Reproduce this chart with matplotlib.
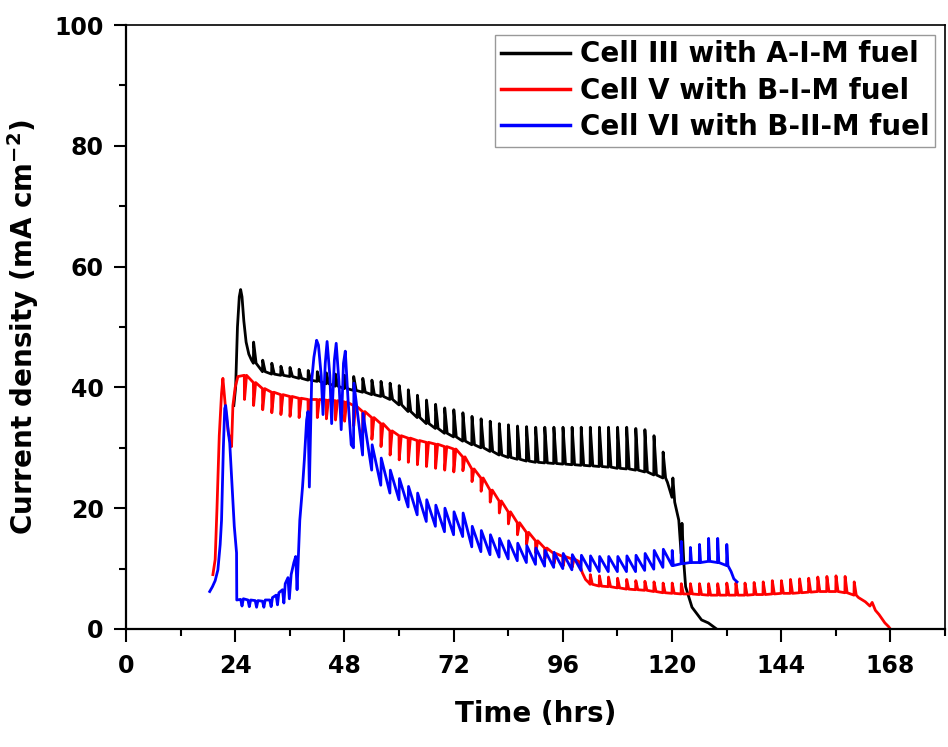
import matplotlib
matplotlib.use("Agg")
import matplotlib.pyplot as plt
from matplotlib.ticker import MultipleLocator

# ---- Cell III with A-I-M fuel (black) ----
black_start_t = [23.7, 24.1, 24.5, 24.9, 25.2, 25.5, 25.9, 26.4, 27.0, 27.6]
black_start_y = [37.0, 40.0, 50.0, 55.0, 56.2, 55.0, 51.0, 47.5, 45.5, 44.5]
black_spike_t = [28, 30, 32, 34, 36, 38, 40, 42, 44, 46, 48, 50, 52, 54, 56, 58,
                 60, 62, 64, 66, 68, 70, 72, 74, 76, 78, 80, 82, 84, 86, 88, 90,
                 92, 94, 96, 98, 100, 102, 104, 106, 108, 110, 112, 114, 116, 118]
black_base = [44.0, 42.6, 42.2, 42.0, 41.8, 41.5, 41.2, 41.0, 40.6, 40.2, 39.8, 39.5,
              39.2, 38.8, 38.5, 38.0, 37.1, 36.0, 35.0, 34.0, 33.2, 32.4, 31.8, 31.1,
              30.5, 30.0, 29.4, 28.8, 28.4, 28.1, 27.8, 27.6, 27.5, 27.4, 27.3, 27.2,
              27.1, 27.0, 26.9, 26.8, 26.6, 26.5, 26.3, 26.0, 25.5, 25.0]
black_peak = [47.5, 44.5, 44.0, 43.5, 43.3, 43.0, 42.8, 42.6, 42.4, 42.2, 42.0, 41.8,
              41.5, 41.2, 41.0, 40.7, 40.3, 39.6, 38.7, 37.9, 37.2, 36.6, 36.3, 35.8,
              35.2, 34.8, 34.4, 34.0, 33.8, 33.6, 33.5, 33.4, 33.4, 33.4, 33.4, 33.4,
              33.4, 33.4, 33.4, 33.4, 33.4, 33.4, 33.2, 33.0, 32.0, 29.3]
black_end_t = [119.0, 120.0, 120.2, 120.6, 121.5, 122.0, 122.2, 122.6, 123.0, 124.4,
               125.5, 126.5, 128.0, 129.8]
black_end_y = [24.3, 21.8, 25.0, 21.0, 18.0, 12.5, 17.5, 11.0, 7.0, 3.6, 2.5, 1.5, 1.0, 0.0]

# ---- Cell V with B-I-M fuel (red) ----
red_start_t = [19.1, 19.6, 20.0, 20.5, 21.0, 21.3, 21.6, 22.0, 22.5, 23.0, 23.2, 23.5, 24.0, 24.6]
red_start_y = [9.0, 11.5, 20.0, 32.0, 39.0, 41.5, 39.0, 35.5, 32.5, 31.0, 30.2, 37.0, 40.0, 41.8]
red_dip_t = [26, 28, 30, 32, 34, 36, 38, 40, 42, 44, 46, 48, 50, 52, 54, 56, 58, 60,
             62, 64, 66, 68, 70, 72, 74, 76, 78, 80, 82, 84, 86, 88, 90, 92, 94, 96, 98]
red_top = [42.0, 40.8, 39.8, 39.2, 38.8, 38.5, 38.2, 38.0, 38.0, 37.9, 37.8, 37.6,
           37.0, 36.0, 35.0, 34.0, 32.8, 32.0, 31.6, 31.2, 30.9, 30.6, 30.2, 29.8,
           28.5, 26.5, 25.0, 23.0, 21.2, 19.4, 17.6, 16.0, 14.6, 13.4, 12.5, 12.0, 11.6]
red_dip = [38.0, 37.0, 36.3, 35.8, 35.5, 35.2, 35.0, 35.0, 35.0, 34.8, 34.6, 34.4,
           33.6, 32.5, 31.4, 30.2, 28.8, 28.0, 27.6, 27.2, 26.9, 26.6, 26.3, 26.0,
           26.2, 24.4, 22.8, 21.0, 19.2, 17.4, 15.6, 14.0, 12.6, 11.6, 10.8, 10.4, 10.2]
red_drop_t = [99.5, 100.3, 101.0, 101.8]
red_drop_y = [11.2, 9.3, 8.2, 7.6]
red_spike_t = [102, 104, 106, 108, 110, 112, 114, 116, 118, 120, 122, 124, 126, 128,
               130, 132, 134, 136, 138, 140, 142, 144, 146, 148, 150, 152, 154, 156, 158, 160]
red_base = [7.4, 7.1, 7.0, 6.8, 6.6, 6.5, 6.4, 6.2, 6.0, 5.9, 5.8, 5.8, 5.7, 5.6, 5.6,
            5.6, 5.6, 5.6, 5.7, 5.7, 5.8, 5.9, 5.9, 6.0, 6.1, 6.2, 6.2, 6.2, 6.0, 5.6]
red_peak = [9.0, 8.8, 8.6, 8.4, 8.2, 8.0, 7.9, 7.8, 7.6, 7.6, 7.5, 7.5, 7.5, 7.5, 7.5,
            7.6, 7.6, 7.6, 7.7, 7.8, 8.0, 8.0, 8.2, 8.3, 8.4, 8.6, 8.7, 8.8, 8.7, 7.8]
red_end_t = [161.0, 162.5, 163.5, 164.0, 164.7, 165.5, 166.8, 167.6, 168.0]
red_end_y = [5.2, 4.5, 3.8, 4.4, 3.1, 2.4, 1.0, 0.4, 0.0]

# ---- Cell VI with B-II-M fuel (blue) ----
blue_start_t = [18.4, 19.0, 19.6, 20.2, 20.7, 21.0, 21.4, 21.7, 21.9, 22.2, 22.5, 22.8,
                23.3, 23.8, 24.3, 24.35, 25.2, 25.5, 25.8, 26.8, 27.1, 27.4, 28.4, 28.7,
                29.0, 30.0, 30.3, 30.6, 31.6, 31.9, 32.2, 33.0, 33.3, 33.6, 34.4, 34.7,
                35.0, 35.6, 35.9, 36.3, 36.9, 37.3, 37.6, 38.2, 38.8, 39.2, 39.7, 40.0,
                40.3, 40.8, 41.3, 41.9, 42.3, 42.9, 43.3, 43.8, 44.2, 44.8, 45.2, 45.8,
                46.2, 46.8, 47.3, 47.8, 48.2, 48.8, 49.5]
blue_start_y = [6.2, 7.0, 8.0, 9.8, 14.0, 18.0, 30.0, 36.5, 37.0, 35.0, 32.5, 30.8,
                24.0, 17.0, 12.6, 4.8, 4.9, 3.8, 5.0, 4.8, 3.7, 4.8, 4.7, 3.6,
                4.7, 4.6, 3.6, 4.8, 4.8, 3.7, 5.2, 5.6, 4.0, 6.0, 6.5, 4.3,
                7.5, 8.5, 5.0, 9.0, 11.0, 12.0, 6.5, 18.0, 23.5, 28.0, 34.6, 36.0,
                23.5, 41.0, 45.0, 47.8, 47.0, 42.0, 35.5, 44.0, 47.6, 42.0, 34.0, 44.5,
                47.3, 41.0, 33.0, 44.0, 46.0, 38.0, 30.5]
blue_saw_t = [50, 52, 54, 56, 58, 60, 62, 64, 66, 68, 70, 72, 74, 76, 78, 80, 82, 84,
              86, 88, 90, 92, 94, 96, 98, 100, 102, 104, 106, 108, 110, 112, 114, 116, 118]
blue_saw_lo = [30.0, 28.8, 26.3, 23.8, 22.5, 21.4, 20.2, 18.9, 17.8, 17.0, 16.1, 15.6,
               15.3, 13.6, 12.8, 12.3, 11.9, 11.6, 11.3, 11.0, 10.7, 10.4, 10.2, 10.0,
               9.8, 9.7, 9.6, 9.5, 9.5, 9.5, 9.5, 9.5, 9.7, 9.9, 10.2]
blue_saw_hi = [40.7, 35.7, 30.5, 28.3, 26.3, 24.9, 23.6, 22.5, 21.4, 20.5, 20.0, 19.4,
               19.2, 17.0, 16.3, 15.6, 15.0, 14.6, 14.2, 13.8, 13.4, 13.0, 12.7, 12.5,
               12.3, 12.2, 12.1, 12.0, 12.0, 12.0, 12.1, 12.2, 12.5, 13.0, 13.2]
blue_spike_t = [120, 122, 124, 126, 128, 130, 132]
blue_base = [10.5, 10.8, 11.0, 11.0, 11.2, 11.0, 10.5]
blue_peak = [13.0, 14.5, 13.5, 14.0, 15.0, 15.0, 14.0]
blue_end_t = [133.0, 133.6, 134.3]
blue_end_y = [9.5, 8.3, 7.8]

labels = ["Cell III with A-I-M fuel", "Cell V with B-I-M fuel", "Cell VI with B-II-M fuel"]


def spike_train(t, base, peak, width):
    xs, ys = [], []
    for ti, b, p in zip(t, base, peak):
        xs += [ti, ti + 0.05, ti + width]
        ys += [b, p, b]
    return xs, ys


def sawtooth(t, lo, hi):
    xs, ys = [], []
    for ti, a, b in zip(t, lo, hi):
        xs += [ti, ti + 0.1]
        ys += [a, b]
    return xs, ys


bx, by = spike_train(black_spike_t, black_base, black_peak, 0.6)
black_t = black_start_t + bx + black_end_t
black_y = black_start_y + by + black_end_y

rx, ry = spike_train(red_dip_t, red_top, red_dip, 0.5)
rx2, ry2 = spike_train(red_spike_t, red_base, red_peak, 0.5)
red_t = red_start_t + rx + red_drop_t + rx2 + red_end_t
red_y = red_start_y + ry + red_drop_y + ry2 + red_end_y

sx, sy = sawtooth(blue_saw_t, blue_saw_lo, blue_saw_hi)
px, py = spike_train(blue_spike_t, blue_base, blue_peak, 0.3)
blue_t = blue_start_t + sx + px + blue_end_t
blue_y = blue_start_y + sy + py + blue_end_y

plt.rcParams['font.family'] = ['DejaVu Sans']
plt.rcParams['font.weight'] = 'bold'

fig = plt.figure(figsize=(9.48, 7.47), dpi=100)
ax = fig.add_axes([0.1329, 0.158, 0.8639, 0.8085])

ax.plot(black_t, black_y, color='#000000', lw=2, label=labels[0])
ax.plot(red_t, red_y, color='#ff0000', lw=2, label=labels[1])
ax.plot(blue_t, blue_y, color='#0000ff', lw=2, label=labels[2])

ax.set_xlim(0, 180)
ax.set_ylim(0, 100)
ax.xaxis.set_major_locator(MultipleLocator(24))
ax.xaxis.set_minor_locator(MultipleLocator(12))
ax.yaxis.set_major_locator(MultipleLocator(20))
ax.yaxis.set_minor_locator(MultipleLocator(10))
ax.tick_params(which='major', direction='out', length=9, width=1.5, labelsize=17, pad=7)
ax.tick_params(which='minor', direction='out', length=5, width=1.5)
ax.tick_params(axis='x', which='major', pad=9)
for side in ['left', 'bottom']:
    ax.spines[side].set_linewidth(1.6)
for side in ['top', 'right']:
    ax.spines[side].set_linewidth(1.2)

ax.set_xlabel("Time (hrs)", fontsize=20, fontweight='bold', labelpad=16)
ax.set_ylabel("Current density (mA cm$^{\\mathbf{-2}}$)", fontsize=20, fontweight='bold', labelpad=10)

leg = ax.legend(loc='upper right', fontsize=20, frameon=True, fancybox=False,
                edgecolor='#808080', handlelength=2.5, handletextpad=0.35,
                labelspacing=0.3, borderpad=0.2, borderaxespad=0.35)
leg.get_frame().set_linewidth(1.0)
for line in leg.get_lines():
    line.set_linewidth(2.5)

fig.savefig("out.png", dpi=100)
